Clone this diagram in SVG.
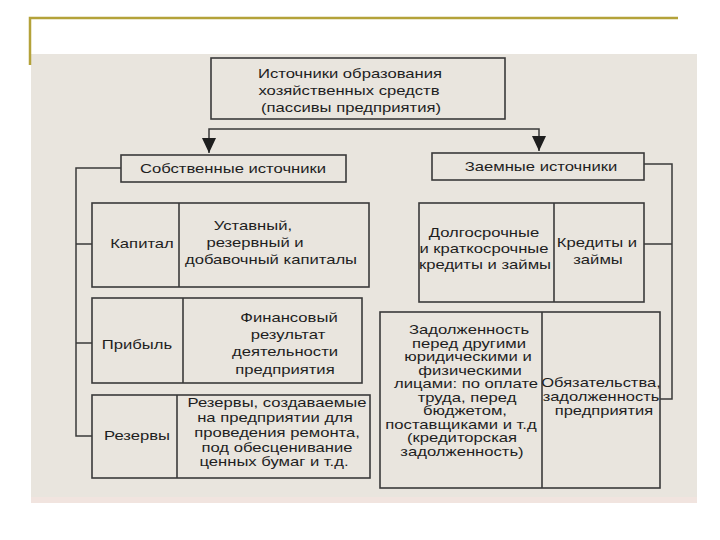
<svg xmlns="http://www.w3.org/2000/svg" width="720" height="540" viewBox="0 0 720 540">
<defs>
<style>
.bg{fill:#e9e5de}
.box{fill:none;stroke:#3a3a3a;stroke-width:1.6}
.ln{fill:none;stroke:#3a3a3a;stroke-width:1.5}
.t{font-family:"Liberation Sans",Arial,sans-serif;font-size:13px;fill:#1e1e1e;text-anchor:middle}
.s{font-size:12.5px}
.olive{fill:none;stroke:#b4a23a;stroke-width:2.5}
</style>
<marker id="ah" markerUnits="userSpaceOnUse" markerWidth="15" markerHeight="14" viewBox="0 0 15 14" refX="15" refY="7" orient="auto">
<path d="M0,0 L15,7 L0,14 z" fill="#1e1e1e"/>
</marker>
</defs>
<rect x="0" y="0" width="720" height="540" fill="#ffffff"/>
<rect class="bg" x="31" y="54" width="666" height="443"/>
<rect x="31" y="497" width="666" height="6" fill="#f1e4df"/>
<path class="olive" d="M30,65 V18 H678"/>

<g id="connectors">
<path class="ln" d="M374,129 H209 V153" marker-end="url(#ah)"/>
<path class="ln" d="M374,129 H539 V151" marker-end="url(#ah)"/>
<path class="ln" d="M121,168 H76 V436 H92 M76,244 H92 M76,343 H92"/>
<path class="ln" d="M644,164 H672 V399 H660 M644,244 H672"/>
</g>

<g id="root">
<rect class="box" x="211" y="58" width="294" height="61"/>
<text class="t" transform="translate(350,78) scale(1.28,1)">Источники образования</text>
<text class="t" transform="translate(349,95) scale(1.28,1)">хозяйственных средств</text>
<text class="t" transform="translate(351,112) scale(1.28,1)">(пассивы предприятия)</text>
</g>

<g id="own">
<rect class="box" x="121" y="155" width="225" height="27"/>
<text class="t" transform="translate(233,173) scale(1.28,1)">Собственные источники</text>
</g>

<g id="borrowed">
<rect class="box" x="432" y="153" width="212" height="27"/>
<text class="t" transform="translate(541,171) scale(1.28,1)">Заемные источники</text>
</g>

<g id="capital">
<rect class="box" x="92" y="203" width="277" height="84"/>
<line class="box" x1="179" y1="203" x2="179" y2="287"/>
<text class="t" transform="translate(142,248) scale(1.28,1)">Капитал</text>
<text class="t" transform="translate(253,230) scale(1.28,1)">Уставный,</text>
<text class="t" transform="translate(255,247) scale(1.28,1)">резервный и</text>
<text class="t" transform="translate(271,264) scale(1.28,1)">добавочный капиталы</text>
</g>

<g id="profit">
<rect class="box" x="92" y="298" width="270" height="85"/>
<line class="box" x1="183" y1="298" x2="183" y2="383"/>
<text class="t" transform="translate(137,349) scale(1.28,1)">Прибыль</text>
<text class="t" transform="translate(289,322) scale(1.28,1)">Финансовый</text>
<text class="t" transform="translate(288,339) scale(1.28,1)">результат</text>
<text class="t" transform="translate(285,356) scale(1.28,1)">деятельности</text>
<text class="t" transform="translate(285,374) scale(1.28,1)">предприятия</text>
</g>

<g id="reserves">
<rect class="box" x="92" y="395" width="278" height="83"/>
<line class="box" x1="177" y1="395" x2="177" y2="478"/>
<text class="t" transform="translate(137,440) scale(1.28,1)">Резервы</text>
<text class="t" transform="translate(277,407) scale(1.28,1)">Резервы, создаваемые</text>
<text class="t" transform="translate(275,422) scale(1.28,1)">на предприятии для</text>
<text class="t" transform="translate(277,437) scale(1.28,1)">проведения ремонта,</text>
<text class="t" transform="translate(277,452) scale(1.28,1)">под обесценивание</text>
<text class="t" transform="translate(274,466) scale(1.28,1)">ценных бумаг и т.д.</text>
</g>

<g id="credits">
<rect class="box" x="419" y="203" width="225" height="99"/>
<line class="box" x1="554" y1="203" x2="554" y2="302"/>
<text class="t" transform="translate(484,237) scale(1.28,1)">Долгосрочные</text>
<text class="t" transform="translate(484,253) scale(1.28,1)">и краткосрочные</text>
<text class="t" transform="translate(485,269) scale(1.28,1)">кредиты и займы</text>
<text class="t" transform="translate(597,247) scale(1.28,1)">Кредиты и</text>
<text class="t" transform="translate(598,264) scale(1.28,1)">займы</text>
</g>

<g id="liabilities">
<rect class="box" x="380" y="312" width="280" height="176"/>
<line class="box" x1="542" y1="312" x2="542" y2="488"/>
<text class="t" transform="translate(469,334) scale(1.28,1)">Задолженность</text>
<text class="t" transform="translate(469,347.5) scale(1.28,1)">перед другими</text>
<text class="t" transform="translate(468,361) scale(1.28,1)">юридическими и</text>
<text class="t" transform="translate(470,374.5) scale(1.28,1)">физическими</text>
<text class="t" transform="translate(466,388) scale(1.28,1)">лицами: по оплате</text>
<text class="t" transform="translate(467,401.5) scale(1.28,1)">труда, перед</text>
<text class="t" transform="translate(465,415) scale(1.28,1)">бюджетом,</text>
<text class="t" transform="translate(461,428.5) scale(1.28,1)">поставщиками и т.д</text>
<text class="t" transform="translate(462,442) scale(1.28,1)">(кредиторская</text>
<text class="t" transform="translate(462,455.5) scale(1.28,1)">задолженность)</text>
<text class="t s" transform="translate(601,386.5) scale(1.32,1)">Обязательства,</text>
<text class="t s" transform="translate(601,400.5) scale(1.32,1)">задолженность</text>
<text class="t s" transform="translate(604,414.5) scale(1.32,1)">предприятия</text>
</g>
</svg>
